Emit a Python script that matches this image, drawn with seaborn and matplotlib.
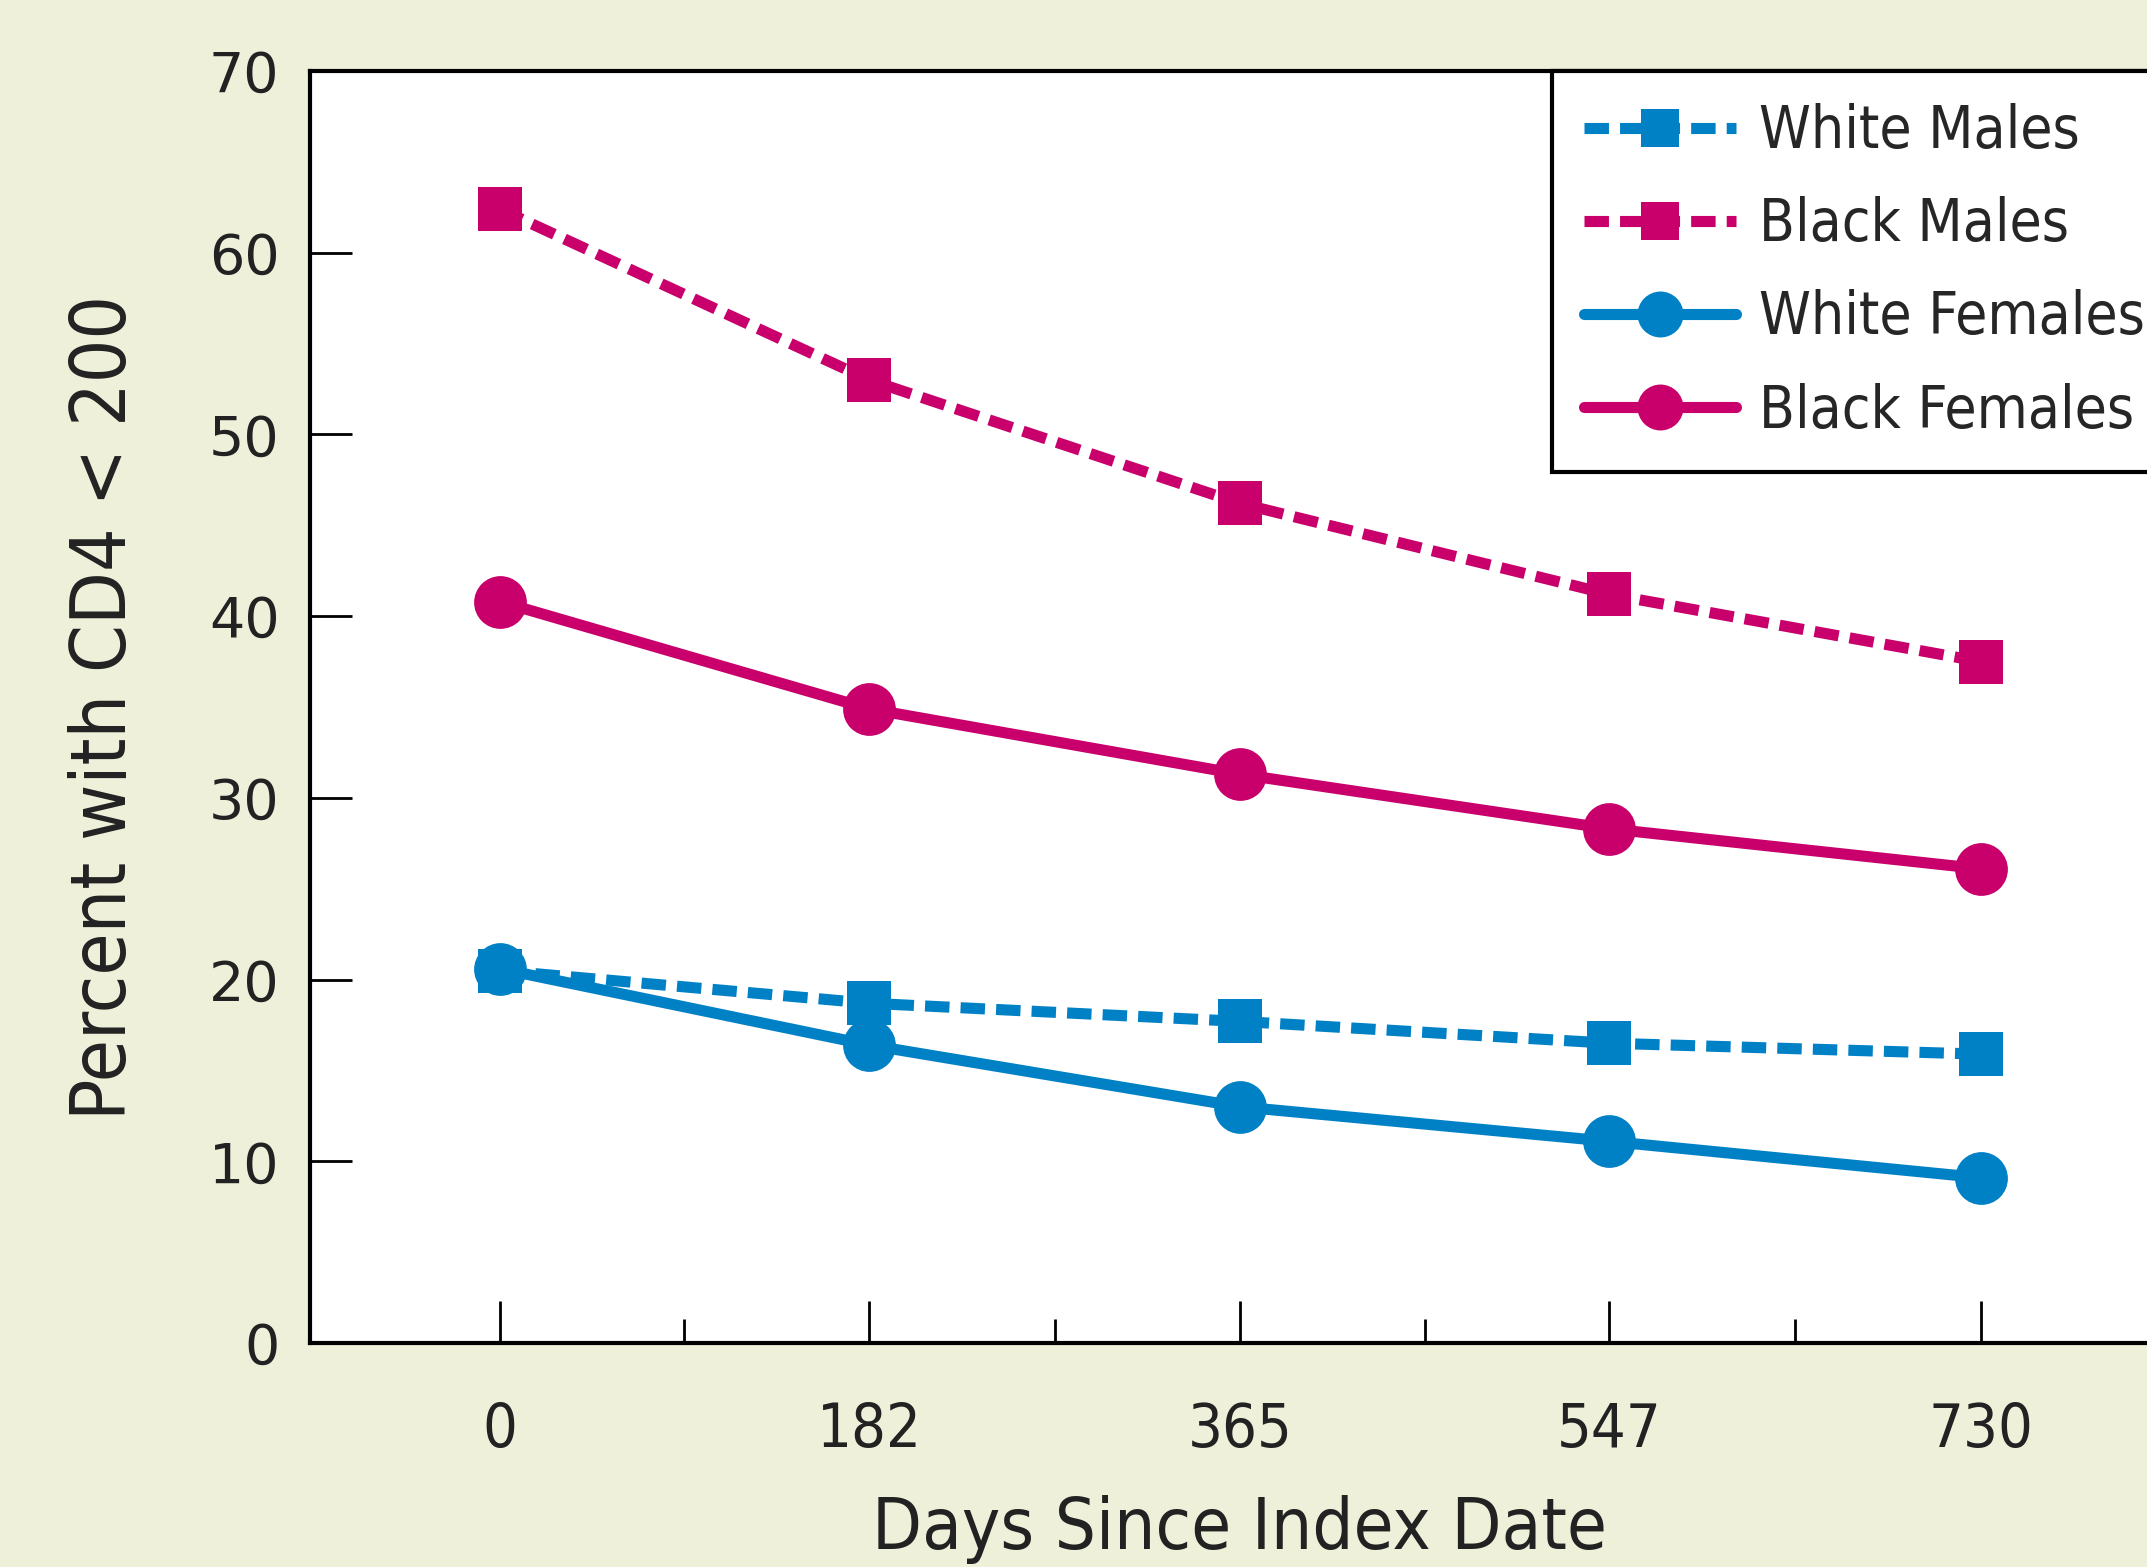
import numpy as np
import pandas as pd
import matplotlib
matplotlib.use('Agg')
import matplotlib.pyplot as plt
import seaborn as sns
from matplotlib.ticker import FixedLocator

days = [0, 182, 365, 547, 730]
groups = ['White Males', 'Black Males', 'White Females', 'Black Females']
white_males = [20.5, 18.7, 17.7, 16.5, 15.9]
black_males = [62.4, 53.0, 46.2, 41.2, 37.5]
white_females = [20.6, 16.4, 13.0, 11.1, 9.1]
black_females = [40.8, 34.9, 31.3, 28.3, 26.1]
minor_days = [91, 273.5, 456, 638.5]

blue = '#0081C6'
magenta = '#C9006B'
cream = '#EEF0DA'

df = pd.DataFrame({
    'day': days * 4,
    'pct': white_males + black_males + white_females + black_females,
    'group': np.repeat(groups, len(days)),
})

sns.set_style('ticks')
plt.rcParams['font.family'] = ['DejaVu Sans']

fig = plt.figure(figsize=(21.47, 15.67), dpi=100, facecolor=cream)
ax = fig.add_axes([0.1444, 0.1429, 0.866, 0.8118])
ax.set_facecolor('white')

sns.lineplot(data=df, x='day', y='pct', hue='group', style='group',
             hue_order=groups, style_order=groups,
             palette={'White Males': blue, 'Black Males': magenta,
                      'White Females': blue, 'Black Females': magenta},
             markers={'White Males': 's', 'Black Males': 's',
                      'White Females': 'o', 'Black Females': 'o'},
             dashes={'White Males': (2.2, 1.0), 'Black Males': (2.2, 1.0),
                     'White Females': '', 'Black Females': ''},
             linewidth=8, markersize=32, markeredgewidth=0,
             legend=False, ax=ax)
lines = ax.get_lines()
# circles are drawn a little larger than the squares
for ln in lines[2:4]:
    ln.set_markersize(38)

ax.set_xlim(-93.6, 823)
ax.set_ylim(0, 70)
ax.set_xticks(days)
ax.set_xticklabels([str(d) for d in days])
ax.xaxis.set_minor_locator(FixedLocator(minor_days))
ax.set_yticks(range(0, 71, 10))

ax.tick_params(axis='both', which='major', direction='in', length=30, width=2, color='black')
ax.tick_params(axis='x', which='minor', direction='in', length=17, width=2, color='black')
ax.tick_params(axis='x', which='major', pad=42)
ax.tick_params(axis='y', which='major', pad=22)
for lab in ax.get_xticklabels():
    lab.set_fontstretch('condensed')
    lab.set_fontsize(44)
    lab.set_color('#222222')
for lab in ax.get_yticklabels():
    lab.set_fontsize(40)
    lab.set_color('#222222')

ax.set_xlabel('Days Since Index Date', fontsize=52, fontstretch='condensed', color='#222222', labelpad=25)
ax.set_ylabel('Percent with CD4 < 200', fontsize=55, fontstretch='condensed', color='#222222', labelpad=48)

for side in ['left', 'bottom', 'top', 'right']:
    ax.spines[side].set_linewidth(3)
    ax.spines[side].set_color('black')

leg = ax.legend(lines, groups, loc='upper left', bbox_to_anchor=(0.668, 1.0),
                borderaxespad=0, handlelength=2.6, handletextpad=0.4,
                labelspacing=0.62, borderpad=0.55, markerscale=0.87,
                prop={'size': 42, 'stretch': 'condensed'},
                frameon=True, fancybox=False, framealpha=1, edgecolor='black')
leg.get_frame().set_linewidth(3)

fig.savefig('out.png', dpi=100, facecolor=cream)
